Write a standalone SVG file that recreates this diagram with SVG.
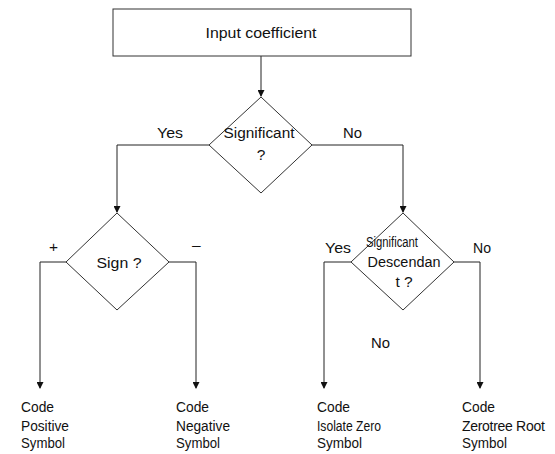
<svg xmlns="http://www.w3.org/2000/svg" width="555" height="454" viewBox="0 0 555 454">
<defs>
<marker id="arr" markerWidth="7" markerHeight="7" refX="6" refY="3.5" orient="auto" markerUnits="userSpaceOnUse">
<path d="M0,0 L7,3.5 L0,7 Z" fill="#111"/>
</marker>
</defs>
<style>
.shape{fill:#fff;stroke:#333;stroke-width:1}
.line{fill:none;stroke:#222;stroke-width:1}
text{font-family:"Liberation Sans",Arial,sans-serif;fill:#111;font-size:15.5px}
</style>
<rect width="555" height="454" fill="#fff"/>
<g id="connectors">
<line class="line" x1="261" y1="56" x2="261" y2="96" marker-end="url(#arr)"/>
<polyline class="line" points="209,145 117,145 117,212" marker-end="url(#arr)"/>
<polyline class="line" points="312,145 403,145 403,212" marker-end="url(#arr)"/>
<polyline class="line" points="66,262 40,262 40,388" marker-end="url(#arr)"/>
<polyline class="line" points="169,262 196,262 196,388" marker-end="url(#arr)"/>
<polyline class="line" points="351,262 324,262 324,388" marker-end="url(#arr)"/>
<polyline class="line" points="454,262 480,262 480,388" marker-end="url(#arr)"/>
<text x="157" y="138" textLength="26" lengthAdjust="spacingAndGlyphs">Yes</text>
<text x="343" y="138" textLength="19" lengthAdjust="spacingAndGlyphs">No</text>
<text x="49" y="252">+</text>
<text x="192" y="250">–</text>
<text x="325" y="253" textLength="26" lengthAdjust="spacingAndGlyphs">Yes</text>
<text x="473" y="253" textLength="18" lengthAdjust="spacingAndGlyphs">No</text>
<text x="371" y="348" textLength="19" lengthAdjust="spacingAndGlyphs">No</text>
</g>
<g id="input">
<rect class="shape" x="113" y="9" width="298" height="47"/>
<text x="261" y="38" text-anchor="middle" textLength="111" lengthAdjust="spacingAndGlyphs">Input coefficient</text>
</g>
<g id="significant">
<polygon class="shape" points="261,97 312,145 261,193 209,145"/>
<text x="259" y="138" text-anchor="middle" textLength="71" lengthAdjust="spacingAndGlyphs">Significant</text>
<text x="261" y="160" text-anchor="middle">?</text>
</g>
<g id="sign">
<polygon class="shape" points="117,213 169,262 117,310 66,262"/>
<text x="119" y="268" text-anchor="middle" textLength="45" lengthAdjust="spacingAndGlyphs">Sign ?</text>
</g>
<g id="descendant">
<polygon class="shape" points="403,213 454,262 403,310 351,262"/>
<text x="392" y="247" text-anchor="middle" textLength="52" lengthAdjust="spacingAndGlyphs">Significant</text>
<text x="404" y="267" text-anchor="middle" textLength="73" lengthAdjust="spacingAndGlyphs">Descendan</text>
<text x="404" y="287" text-anchor="middle">t ?</text>
</g>
<g id="positive">
<text x="21" y="412" textLength="33" lengthAdjust="spacingAndGlyphs">Code</text>
<text x="21" y="431" textLength="48" lengthAdjust="spacingAndGlyphs">Positive</text>
<text x="21" y="448" textLength="44" lengthAdjust="spacingAndGlyphs">Symbol</text>
</g>
<g id="negative">
<text x="176" y="412" textLength="33" lengthAdjust="spacingAndGlyphs">Code</text>
<text x="176" y="431" textLength="54" lengthAdjust="spacingAndGlyphs">Negative</text>
<text x="176" y="448" textLength="44" lengthAdjust="spacingAndGlyphs">Symbol</text>
</g>
<g id="isolate">
<text x="317" y="412" textLength="33" lengthAdjust="spacingAndGlyphs">Code</text>
<text x="317" y="431" textLength="64" lengthAdjust="spacingAndGlyphs">Isolate Zero</text>
<text x="317" y="448" textLength="45" lengthAdjust="spacingAndGlyphs">Symbol</text>
</g>
<g id="zerotree">
<text x="462" y="412" textLength="33" lengthAdjust="spacingAndGlyphs">Code</text>
<text x="462" y="431" style="font-size:14px;letter-spacing:-0.3px">Zerotree Root</text>
<text x="462" y="448" textLength="45" lengthAdjust="spacingAndGlyphs">Symbol</text>
</g>
</svg>
